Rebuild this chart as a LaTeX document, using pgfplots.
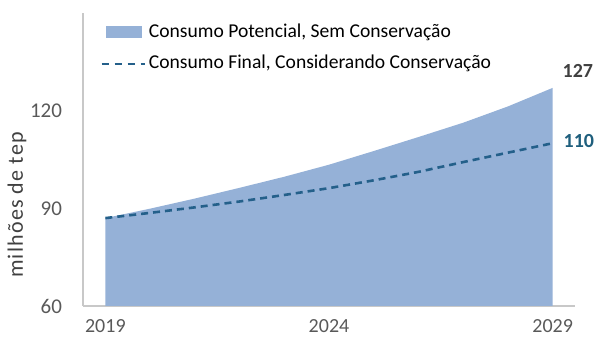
\documentclass[border=0pt]{standalone}
\usepackage{pgfplots}
\pgfplotsset{compat=1.18}
\usepackage{fontspec}
\setmainfont{Carlito}
\newfontfamily\lblfont[LetterSpace=5.5]{Carlito}
\definecolor{areablue}{RGB}{149,177,215}
\definecolor{dashblue}{RGB}{36,96,138}
\definecolor{tealtxt}{RGB}{31,95,125}
\definecolor{ticktxt}{RGB}{89,89,89}
\definecolor{darktxt}{RGB}{64,64,64}
\definecolor{axgray}{RGB}{200,200,200}
\begin{document}
\begin{tikzpicture}
\begin{axis}[
  scale only axis,
  width=246pt, height=146.5pt,
  xmin=2018.5, xmax=2029.5,
  ymin=60, ymax=150,
  clip mode=individual,
  axis x line=bottom, axis y line=left,
  axis line style={draw=axgray, line width=0.6pt, -},
  xtick={2019,2024,2029},
  ytick={60,90,120},
  major tick length=0pt,
  xticklabel style={font=\fontsize{10}{12}\selectfont, text=ticktxt, yshift=-3pt},
  yticklabel style={font=\fontsize{10.5}{12}\selectfont, text=ticktxt, xshift=-7pt},
  /pgf/number format/assume math mode=true,
  xticklabel={\pgfmathprintnumber[1000 sep={}]{\tick}},
  yticklabel={\pgfmathprintnumber{\tick}},
  legend style={at={(rel axis cs:0.035,0.975)}, anchor=north west, draw=none, fill=none,
    font=\fontsize{9.8}{11.6}\selectfont, row sep=4.5pt, inner sep=0pt,
    nodes={inner sep=1.5pt}},
  legend cell align=left,
]
\addplot[fill=areablue, draw=none,
  legend image code/.code={\fill[areablue] (0.5pt,-3pt) rectangle (18.5pt,3pt);}]
 coordinates {
 (2019,87) (2020,89.9) (2021,93.0) (2022,96.3) (2023,99.7) (2024,103.4)
 (2025,107.6) (2026,111.9) (2027,116.3) (2028,121.3) (2029,127)
} \closedcycle;
\addlegendentry{Consumo Potencial, Sem Conservação}
\addplot[dashblue, line width=1.3pt, dash pattern=on 3.5pt off 2.5pt,
  legend image code/.code={\draw[dashblue, line width=1.1pt, dash pattern=on 3.5pt off 3pt] (-1.5pt,0pt) -- (20pt,0pt);}]
 coordinates {
 (2019,87) (2020,88.6) (2021,90.3) (2022,92.1) (2023,94.1) (2024,96.2)
 (2025,98.6) (2026,101.2) (2027,104.2) (2028,107.1) (2029,110)
};
\addlegendentry{Consumo Final, Considerando Conservação}
\node[anchor=west, font=\bfseries\fontsize{10}{12}\selectfont, text=darktxt] at ([xshift=1.5pt, yshift=8.5pt]axis cs:2029,127) {127};
\node[anchor=west, font=\bfseries\fontsize{10}{12}\selectfont, text=tealtxt] at ([xshift=2pt, yshift=1pt]axis cs:2029,110) {110};
\node[rotate=90, font=\lblfont\fontsize{11}{13}\selectfont, text=darktxt] at ([xshift=-33pt]rel axis cs:0,0.345) {milhões de tep};
\end{axis}
\pgfresetboundingbox
\path[use as bounding box] ([shift={(-41.5pt,-19pt)}]current axis.south west) rectangle ([shift={(11pt,6.5pt)}]current axis.north east);
\end{tikzpicture}
\end{document}
